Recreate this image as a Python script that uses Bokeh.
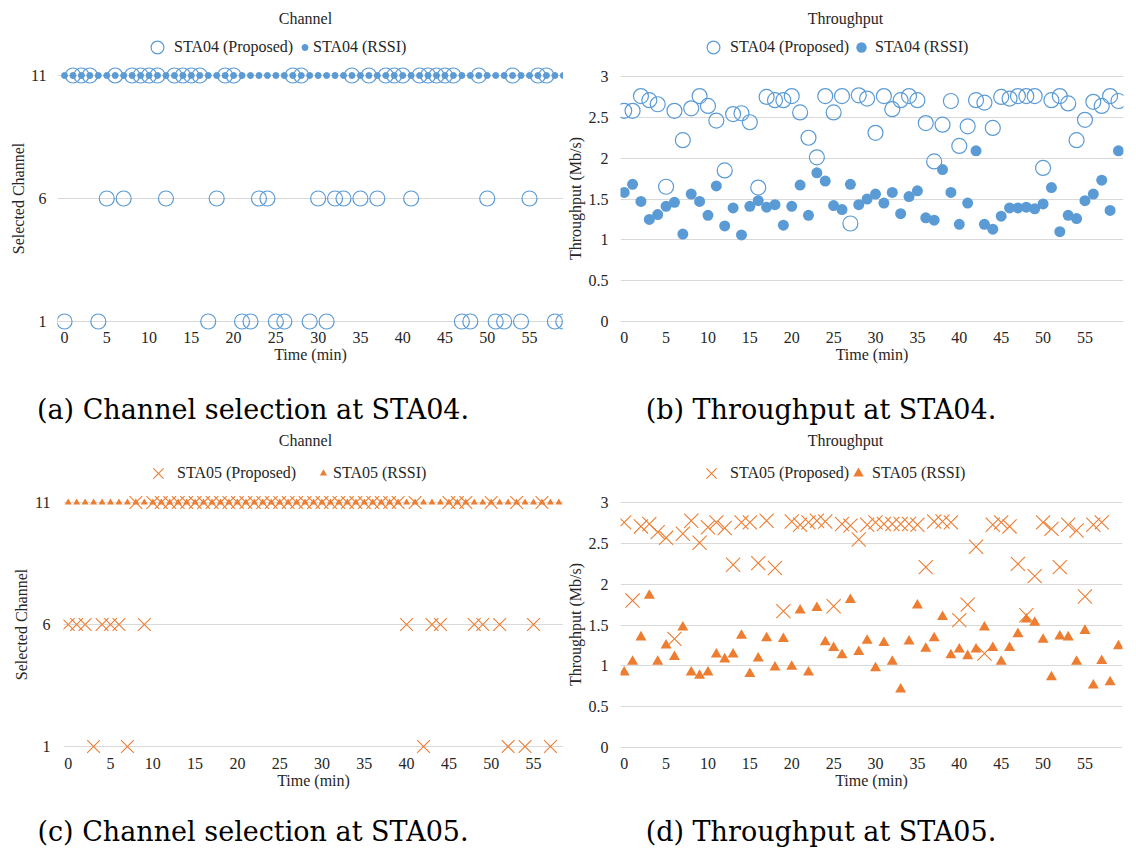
from bokeh.plotting import figure
from bokeh.models import Range1d, FixedTicker, NumeralTickFormatter, Legend, LegendItem, Div, Label, Title
from bokeh.layouts import column, row
from bokeh.embed import file_html
from bokeh.resources import INLINE

# ---------------- data ----------------
time_sta04 = [0, 1, 2, 3, 4, 5, 6, 7, 8, 9, 10, 11, 12, 13, 14, 15, 16, 17, 18, 19,
              20, 21, 22, 23, 24, 25, 26, 27, 28, 29, 30, 31, 32, 33, 34, 35, 36, 37, 38, 39,
              40, 41, 42, 43, 44, 45, 46, 47, 48, 49, 50, 51, 52, 53, 54, 55, 56, 57, 58, 59]
time_sta05_proposed = [0, 1, 2, 3, 4, 5, 6, 7, 8, 9, 10, 11, 12, 13, 14, 15, 16, 17, 18, 19,
                       20, 21, 22, 23, 24, 25, 26, 27, 28, 29, 30, 31, 32, 33, 34, 35, 36, 37, 38, 39,
                       40, 41, 42, 43, 44, 45, 46, 47, 48, 49, 50, 51, 52, 53, 54, 55, 56, 57]
time_sta05_rssi = [0, 1, 2, 3, 4, 5, 6, 7, 8, 9, 10, 11, 12, 13, 14, 15, 16, 17, 18, 19,
                   20, 21, 22, 23, 24, 25, 26, 27, 28, 29, 30, 31, 32, 33, 34, 35, 36, 37, 38, 39,
                   40, 41, 42, 43, 44, 45, 46, 47, 48, 49, 50, 51, 52, 53, 54, 55, 56, 57, 58, 59]

ch_sta04_proposed = [1, 11, 11, 11, 1, 6, 11, 6, 11, 11,
                     11, 11, 6, 11, 11, 11, 11, 1, 6, 11,
                     11, 1, 1, 6, 6, 1, 1, 11, 11, 1,
                     6, 1, 6, 6, 11, 6, 11, 6, 11, 11,
                     11, 6, 11, 11, 11, 11, 11, 1, 1, 11,
                     6, 1, 1, 11, 1, 6, 11, 11, 1, 1]
ch_sta04_rssi = [11, 11, 11, 11, 11, 11, 11, 11, 11, 11,
                 11, 11, 11, 11, 11, 11, 11, 11, 11, 11,
                 11, 11, 11, 11, 11, 11, 11, 11, 11, 11,
                 11, 11, 11, 11, 11, 11, 11, 11, 11, 11,
                 11, 11, 11, 11, 11, 11, 11, 11, 11, 11,
                 11, 11, 11, 11, 11, 11, 11, 11, 11, 11]

tp_sta04_proposed = [2.58, 2.58, 2.76, 2.71, 2.66, 1.65, 2.58, 2.22, 2.61, 2.76,
                     2.64, 2.46, 1.85, 2.54, 2.55, 2.44, 1.64, 2.75, 2.71, 2.71,
                     2.76, 2.56, 2.25, 2.01, 2.76, 2.56, 2.76, 1.20, 2.77, 2.73,
                     2.31, 2.76, 2.60, 2.71, 2.76, 2.71, 2.43, 1.96, 2.41, 2.70,
                     2.15, 2.39, 2.71, 2.68, 2.37, 2.75, 2.73, 2.76, 2.76, 2.76,
                     1.88, 2.71, 2.76, 2.67, 2.22, 2.47, 2.69, 2.64, 2.76, 2.70]
tp_sta04_rssi = [1.58, 1.68, 1.47, 1.25, 1.31, 1.41, 1.46, 1.07, 1.56, 1.47,
                 1.30, 1.66, 1.17, 1.39, 1.06, 1.41, 1.48, 1.40, 1.43, 1.18,
                 1.41, 1.67, 1.30, 1.82, 1.72, 1.42, 1.37, 1.68, 1.43, 1.50,
                 1.56, 1.45, 1.58, 1.32, 1.53, 1.60, 1.27, 1.24, 1.86, 1.58,
                 1.19, 1.45, 2.09, 1.19, 1.13, 1.29, 1.39, 1.39, 1.40, 1.38,
                 1.44, 1.64, 1.10, 1.30, 1.26, 1.48, 1.56, 1.73, 1.36, 2.09]

ch_sta05_proposed = [6, 6, 6, 1, 6, 6, 6, 1, 11, 6,
                     11, 11, 11, 11, 11, 11, 11, 11, 11, 11,
                     11, 11, 11, 11, 11, 11, 11, 11, 11, 11,
                     11, 11, 11, 11, 11, 11, 11, 11, 11, 11,
                     6, 11, 1, 6, 6, 11, 11, 11, 6, 6,
                     11, 6, 1, 11, 1, 6, 11, 1]
ch_sta05_rssi = [11, 11, 11, 11, 11, 11, 11, 11, 11, 11,
                 11, 11, 11, 11, 11, 11, 11, 11, 11, 11,
                 11, 11, 11, 11, 11, 11, 11, 11, 11, 11,
                 11, 11, 11, 11, 11, 11, 11, 11, 11, 11,
                 11, 11, 11, 11, 11, 11, 11, 11, 11, 11,
                 11, 11, 11, 11, 11, 11, 11, 11, 11, 11]

tp_sta05_proposed = [2.76, 1.80, 2.71, 2.74, 2.64, 2.57, 1.33, 2.62, 2.78, 2.51,
                     2.70, 2.76, 2.69, 2.24, 2.76, 2.76, 2.26, 2.78, 2.20, 1.67,
                     2.77, 2.73, 2.76, 2.78, 2.77, 1.73, 2.74, 2.72, 2.55, 2.73,
                     2.76, 2.74, 2.74, 2.74, 2.74, 2.73, 2.21, 2.77, 2.77, 2.76,
                     1.56, 1.75, 2.46, 1.15, 2.73, 2.76, 2.71, 2.25, 1.62, 2.10,
                     2.76, 2.68, 2.21, 2.73, 2.66, 1.85, 2.73, 2.76]
tp_sta05_rssi = [0.92, 1.05, 1.35, 1.86, 1.05, 1.25, 1.11, 1.47, 0.92, 0.88,
                 0.92, 1.14, 1.08, 1.14, 1.37, 0.90, 1.09, 1.34, 0.98, 1.33,
                 0.99, 1.68, 0.92, 1.71, 1.29, 1.22, 1.13, 1.81, 1.17, 1.31,
                 0.97, 1.28, 1.05, 0.71, 1.30, 1.74, 1.21, 1.34, 1.60, 1.13,
                 1.20, 1.12, 1.20, 1.47, 1.22, 1.05, 1.22, 1.39, 1.57, 1.53,
                 1.32, 0.86, 1.36, 1.35, 1.05, 1.43, 0.76, 1.06, 0.80, 1.24]

time_ticks = [0, 5, 10, 15, 20, 25, 30, 35, 40, 45, 50, 55]
channel_ticks = [1, 6, 11]
throughput_ticks = [0, 0.5, 1, 1.5, 2, 2.5, 3]

# ---------------- styling ----------------
BLUE = "#5B9BD5"
ORANGE = "#ED7D31"
TXT = "#262626"
GRID = "#D9D9D9"
SERIF = "Liberation Serif"
FS = "16px"


def text_width(s, px):
    # approximate Times/Liberation Serif advance widths (em)
    w = {' ': .25, '(': .333, ')': .333, '/': .278, 'S': .556, 'e': .444, 'l': .278, 'c': .444,
         't': .278, 'd': .5, 'C': .667, 'h': .5, 'a': .444, 'n': .5, 'T': .611, 'r': .333,
         'o': .5, 'u': .5, 'g': .5, 'p': .5, 'M': .889, 'b': .5, 's': .389}
    return sum(w.get(ch, .5) for ch in s) * px


def make_fig(fw, fh, fl, fr, fb, x0px, ppm, yv_hi, ypx_hi, yv_lo, ypx_lo,
             yticks, ylabel, ylabel_cy, title, title_xy, ytick_standoff, ylab_standoff, numeric=False):
    ft = 0  # frame reaches the top so that in-frame annotations (title, legend) are drawn
    frame_w = fr - fl
    frame_h = fb - ft
    xs = -(x0px - fl) / ppm
    xe = xs + frame_w / ppm
    ppu = (ypx_lo - ypx_hi) / (yv_hi - yv_lo)
    ye = yv_hi + (ypx_hi - ft) / ppu
    ys = ye - frame_h / ppu
    p = figure(width=fw, height=fh, output_backend="svg", toolbar_location=None,
               x_range=Range1d(xs, xe), y_range=Range1d(ys, ye),
               min_border_left=fl, min_border_right=fw - fr,
               min_border_top=ft, min_border_bottom=fh - fb)
    p.outline_line_color = None
    p.background_fill_color = "white"
    p.border_fill_color = "white"
    p.xgrid.visible = False
    yt = FixedTicker(ticks=yticks)
    p.yaxis.ticker = yt
    p.ygrid.ticker = yt
    p.ygrid.grid_line_color = GRID
    p.ygrid.grid_line_width = 1
    p.xaxis.ticker = FixedTicker(ticks=time_ticks)
    if numeric:
        p.yaxis.formatter = NumeralTickFormatter(format="0.[0]")
    for ax in (p.xaxis[0], p.yaxis[0]):
        ax.axis_line_color = None
        ax.major_tick_out = 0
        ax.major_tick_in = 0
        ax.minor_tick_out = 0
        ax.minor_tick_in = 0
        ax.major_label_text_font = SERIF
        ax.major_label_text_font_size = FS
        ax.major_label_text_color = TXT
        ax.axis_label_text_font = SERIF
        ax.axis_label_text_font_size = FS
        ax.axis_label_text_font_style = "normal"
        ax.axis_label_text_color = TXT
    p.xaxis.axis_label = "Time (min)"
    p.xaxis.major_label_standoff = 0
    p.xaxis.axis_label_standoff = 0
    p.yaxis.major_label_standoff = ytick_standoff
    # vertical axis title, centred on the plotted value span (not on the taller frame)
    off = (fb - ylabel_cy) - text_width(ylabel, 16) / 2
    p.add_layout(Title(text=ylabel, align="left", offset=off, standoff=ylab_standoff,
                       text_font=SERIF, text_font_size=FS, text_font_style="normal",
                       text_color=TXT), "left")
    tx, ty = title_xy
    p.add_layout(Label(x=tx - fl, y=fb - ty, x_units="screen", y_units="screen",
                       text=title, text_align="center", text_baseline="middle",
                       text_font=SERIF, text_font_size=FS, text_color=TXT))
    return p


def add_leg(p, r, text, gw, fl, fb, yc, text_x, standoff=1):
    # legend marker size is 0.4 * glyph box; the label starts right after the box
    gh = max(gw, 20)
    vx = text_x - standoff - gw - fl
    vy = (fb - yc) - gh / 2
    leg = Legend(items=[LegendItem(label=text, renderers=[r])], location=(vx, vy),
                 orientation="horizontal", glyph_width=gw, glyph_height=gh,
                 label_standoff=standoff, label_height=20, padding=0, margin=0, spacing=0,
                 border_line_color=None, background_fill_alpha=0,
                 label_text_font=SERIF, label_text_font_size=FS, label_text_color=TXT)
    p.add_layout(leg)


# ---------------- panel (a) ----------------
A = dict(fw=563, fh=370, fl=57, fr=563, fb=331)
pa = make_fig(A["fw"], A["fh"], A["fl"], A["fr"], A["fb"], 64, 8.4545,
              11, 75, 1, 321, channel_ticks, "Selected Channel", 198, "Channel", (305, 18), 11, 4)
ra1 = pa.scatter(time_sta04, ch_sta04_proposed, marker="circle", size=15,
                 fill_color=None, line_color=BLUE, line_width=1.2)
ra2 = pa.scatter(time_sta04, ch_sta04_rssi, marker="circle", size=6,
                 fill_color=BLUE, line_color=BLUE)
add_leg(pa, ra1, "STA04 (Proposed)", 32, A["fl"], A["fb"], 47, 174)
add_leg(pa, ra2, "STA04 (RSSI)", 15, A["fl"], A["fb"], 47, 313)

# ---------------- panel (b) ----------------
B = dict(fw=573, fh=370, fl=55, fr=560, fb=331)
pb = make_fig(B["fw"], B["fh"], B["fl"], B["fr"], B["fb"], 58.7, 8.411,
              3, 76, 0, 321, throughput_ticks, "Throughput (Mb/s)", 198, "Throughput", (280, 18), 12, 3,
              numeric=True)
rb1 = pb.scatter(time_sta04, tp_sta04_proposed, marker="circle", size=15,
                 fill_color=None, line_color=BLUE, line_width=1.2)
rb2 = pb.scatter(time_sta04, tp_sta04_rssi, marker="circle", size=11,
                 fill_color=BLUE, line_color=None)
add_leg(pb, rb1, "STA04 (Proposed)", 32, B["fl"], B["fb"], 47, 165)
add_leg(pb, rb2, "STA04 (RSSI)", 26, B["fl"], B["fb"], 47, 310)

# ---------------- panel (c) ----------------
C = dict(fw=563, fh=370, fl=63, fr=563, fb=331)
pc = make_fig(C["fw"], C["fh"], C["fl"], C["fr"], C["fb"], 67.7, 8.46,
              11, 76, 1, 320, channel_ticks, "Selected Channel", 198, "Channel", (305, 14), 13, 6)
rc1 = pc.scatter(time_sta05_proposed, ch_sta05_proposed, marker="x", size=18,
                 line_color=ORANGE, line_width=1.1)
rc2 = pc.scatter(time_sta05_rssi, ch_sta05_rssi, marker="triangle", size=7,
                 fill_color=ORANGE, line_color=None)
add_leg(pc, rc1, "STA05 (Proposed)", 36, C["fl"], C["fb"], 47, 177)
add_leg(pc, rc2, "STA05 (RSSI)", 18, C["fl"], C["fb"], 47, 333)

# ---------------- panel (d) ----------------
D = dict(fw=573, fh=370, fl=55, fr=559, fb=331)
pd_ = make_fig(D["fw"], D["fh"], D["fl"], D["fr"], D["fb"], 58.7, 8.411,
               3, 76.3, 0, 320.7, throughput_ticks, "Throughput (Mb/s)", 198, "Throughput", (280, 14), 12, 3,
               numeric=True)
rd1 = pd_.scatter(time_sta05_proposed, tp_sta05_proposed, marker="x", size=20,
                  line_color=ORANGE, line_width=1.1)
rd2 = pd_.scatter(time_sta05_rssi, tp_sta05_rssi, marker="triangle", size=11,
                  fill_color=ORANGE, line_color=None)
add_leg(pd_, rd1, "STA05 (Proposed)", 36, D["fl"], D["fb"], 47, 165)
add_leg(pd_, rd2, "STA05 (RSSI)", 26, D["fl"], D["fb"], 47, 307)


# ---------------- captions ----------------
def caption(text, w, h, pad):
    html = ('<div style="padding-top:%dpx;width:%dpx;text-align:center;'
            'font-family:\'DejaVu Serif\';font-size:27px;line-height:32px;color:#000;'
            'white-space:nowrap">%s</div>' % (pad, w, text))
    return Div(text=html, width=w, height=h, margin=(0, 0, 0, 0))


cap_a = caption("(a) Channel selection at STA04.", 506, 56, 24)
cap_b = caption("(b) Throughput at STA04.", 630, 56, 24)
cap_c = caption("(c) Channel selection at STA05.", 506, 61, 20)
cap_d = caption("(d) Throughput at STA05.", 630, 61, 20)

layout = column(row(pa, pb), row(cap_a, cap_b), row(pc, pd_), row(cap_c, cap_d))

with open("out.html", "w") as f:
    f.write(file_html(layout, INLINE))
